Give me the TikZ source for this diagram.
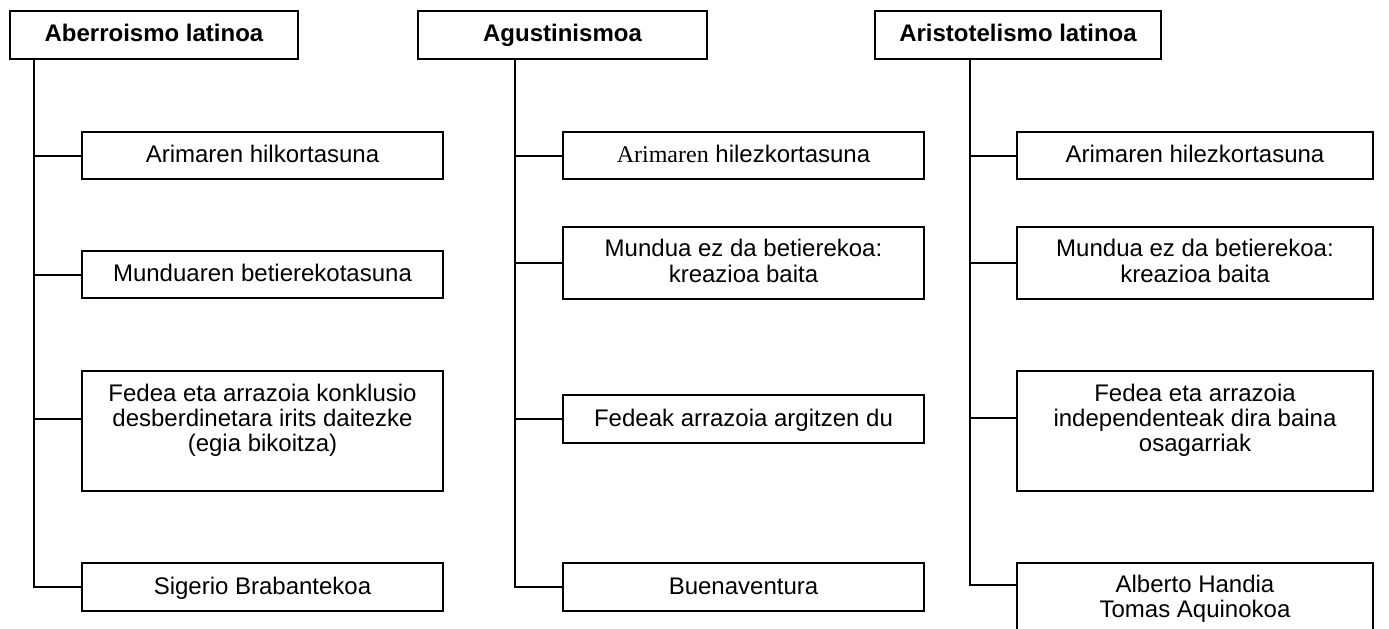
\documentclass[tikz,border=0pt]{standalone}
\usepackage{fontspec}
\setmainfont{Liberation Sans}
\newfontfamily\tnr{Liberation Serif}
\begin{document}
\begin{tikzpicture}[x=0.5pt,y=-0.5pt,
  box/.style={draw, line width=1pt, inner sep=0pt, align=center,
    font=\fontsize{12}{12.5}\selectfont},
  one/.style={box, text height=8.6pt, text depth=1.6pt},
  head/.style={box, text height=8.6pt, text depth=2.2pt, minimum height=24pt, font=\fontsize{12}{12.5}\selectfont\bfseries},
  txt/.style={inner sep=0pt, align=center, font=\fontsize{12}{12.5}\selectfont},
  link/.style={line width=1pt}]
\useasboundingbox (0,0) rectangle (1389,628);
\clip (0,0) rectangle (1389,628);
% headings
\node[head, minimum width=144pt] (h1) at (154,35) {Aberroismo latinoa};
\node[head, minimum width=144.5pt] (h2) at (562.5,35) {Agustinismoa};
\node[head, minimum width=143pt] (h3) at (1018,35) {Aristotelismo latinoa};
% column 1
\node[one, minimum width=180.5pt, minimum height=23.5pt] (a1) at (262.5,155.5) {Arimaren hilkortasuna};
\node[one, minimum width=180.5pt, minimum height=23.5pt] (a2) at (262.5,274.5) {Munduaren betierekotasuna};
\node[box, minimum width=180.5pt, minimum height=60pt] (a3) at (262.5,431) {};
\node[txt, anchor=north] (a3t) at ([yshift=-7pt]a3.north) {Fedea eta arrazoia konklusio\\desberdinetara irits daitezke\\(egia bikoitza)};
\node[one, minimum width=180.5pt, minimum height=24pt] (a4) at (262.5,587) {Sigerio Brabantekoa};
% column 2
\node[one, minimum width=180.5pt, minimum height=23.5pt] (b1) at (743.5,155.5) {{\tnr Arimaren} hilezkortasuna};
\node[box, minimum width=180.5pt, minimum height=36pt] (b2) at (743.5,263) {Mundua ez da betierekoa:\\[0.5pt]kreazioa baita\vphantom{g}};
\node[one, minimum width=180.5pt, minimum height=24pt] (b3) at (743.5,419) {Fedeak arrazoia argitzen du};
\node[one, minimum width=180.5pt, minimum height=24pt] (b4) at (743.5,587) {Buenaventura};
% column 3
\node[one, minimum width=178pt, minimum height=23.5pt] (c1) at (1195,155.5) {Arimaren hilezkortasuna};
\node[box, minimum width=178pt, minimum height=36pt] (c2) at (1195,263) {Mundua ez da betierekoa:\\[0.5pt]kreazioa baita\vphantom{g}};
\node[box, minimum width=178pt, minimum height=60pt] (c3) at (1195,431) {};
\node[txt, anchor=north] (c3t) at ([yshift=-7pt]c3.north) {Fedea eta arrazoia\\independenteak dira baina\\osagarriak};
\node[box, minimum width=178pt, minimum height=40pt] (c4) at (1195,603) {};
\node[txt, anchor=north] (c4t) at ([yshift=-6.3pt]c4.north) {Alberto Handia\\Tomas Aquinokoa};
% trunks
\coordinate (v1) at (34,59);
\coordinate (v2) at (515,59);
\coordinate (v3) at (970,59);
\coordinate (c4in) at (1017,585);
\draw[link] (v1) |- (a4.west);
\draw[link] (a1.west) -- (a1.west -| v1);
\draw[link] (a2.west) -- (a2.west -| v1);
\draw[link] ([yshift=6pt]a3.west) -- ([yshift=6pt]a3.west -| v1);
\draw[link] (v2) |- (b4.west);
\draw[link] (b1.west) -- (b1.west -| v2);
\draw[link] (b2.west) -- (b2.west -| v2);
\draw[link] (b3.west) -- (b3.west -| v2);
\draw[link] (v3) |- (c4in);
\draw[link] (c1.west) -- (c1.west -| v3);
\draw[link] (c2.west) -- (c2.west -| v3);
\draw[link] ([yshift=6.5pt]c3.west) -- ([yshift=6.5pt]c3.west -| v3);
\end{tikzpicture}
\end{document}
